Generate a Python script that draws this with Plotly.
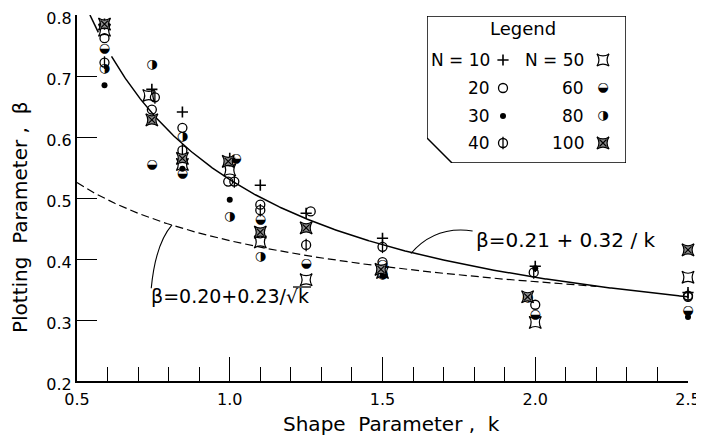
import numpy as np
import plotly.graph_objects as go

# ---------------- data ----------------
k_n10 = [0.59, 0.745, 0.845, 1.0, 1.1, 1.25, 1.5, 2.0, 2.5]
b_n10 = [0.785, 0.678, 0.641, 0.565, 0.521, 0.475, 0.434, 0.388, 0.345]

k_n20 = [0.59, 0.745, 0.845, 0.995, 1.1, 1.265, 1.5, 2.0, 2.5]
b_n20 = [0.762, 0.645, 0.615, 0.527, 0.489, 0.478, 0.395, 0.325, 0.338]

k_n30 = [0.59, 0.845, 1.0, 1.5, 2.0, 2.5]
b_n30 = [0.685, 0.548, 0.497, 0.372, 0.385, 0.305]

k_n40 = [0.59, 0.755, 0.845, 1.015, 1.1, 1.25, 1.5, 1.995, 2.5]
b_n40 = [0.722, 0.665, 0.578, 0.527, 0.48, 0.423, 0.42, 0.378, 0.34]

k_n50 = [0.59, 0.735, 0.845, 1.0, 1.1, 1.25, 1.5, 2.0, 2.5]
b_n50 = [0.775, 0.668, 0.555, 0.546, 0.428, 0.366, 0.378, 0.296, 0.37]

k_n60 = [0.59, 0.745, 0.845, 1.02, 1.1, 1.25, 1.5, 2.0, 2.5]
b_n60 = [0.745, 0.554, 0.54, 0.565, 0.464, 0.393, 0.39, 0.308, 0.315]

k_n80 = [0.59, 0.745, 0.845, 1.0, 1.1, 1.5, 1.975, 2.505]
b_n80 = [0.712, 0.718, 0.6, 0.469, 0.403, 0.374, 0.337, 0.338]

k_n100 = [0.59, 0.745, 0.845, 0.995, 1.1, 1.25, 1.495, 1.975, 2.5]
b_n100 = [0.785, 0.628, 0.565, 0.56, 0.444, 0.451, 0.383, 0.338, 0.415]

sample_sizes = [10, 20, 30, 40, 50, 60, 80, 100]
x_ticks = [0.5, 1.0, 1.5, 2.0, 2.5]
x_ticktext = ["0.5", "1.0", "1.5", "2.0", "2.5"]
y_ticks = [0.2, 0.3, 0.4, 0.5, 0.6, 0.7, 0.8]

# fitted relations shown on the chart
def solid_fit(k):
    return 0.21 + 0.32 / k

def dashed_fit(k):
    return 0.20 + 0.23 / np.sqrt(k)

# ---------------- styles ----------------
FONT = "DejaVu Sans"
BLK = "black"
series_k = [k_n10, k_n20, k_n30, k_n40, k_n50, k_n60, k_n80, k_n100]
series_b = [b_n10, b_n20, b_n30, b_n40, b_n50, b_n60, b_n80, b_n100]

def marker_styles(n):
    """list of (kind, style) layers drawn on top of each other for a sample size"""
    if n == 10:
        return [("m", dict(symbol="cross-thin-open", size=8, color=BLK, line=dict(width=1.6, color=BLK)))]
    if n == 20:
        return [("m", dict(symbol="circle-open", size=9, color=BLK, line=dict(width=1.3, color=BLK)))]
    if n == 30:
        return [("m", dict(symbol="circle", size=6, color=BLK, line=dict(width=0)))]
    if n == 40:
        return [("m", dict(symbol="circle-open", size=9, color=BLK, line=dict(width=1.3, color=BLK))),
                ("m", dict(symbol="line-ns-open", size=9, color=BLK, line=dict(width=1.3, color=BLK)))]
    if n == 50:
        return [("m", dict(symbol="star-square-open", size=11, color=BLK, line=dict(width=1.2, color=BLK)))]
    if n == 60:
        return [("t", "\u25D2")]   # circle with lower half black
    if n == 80:
        return [("t", "\u25D1")]   # circle with right half black
    return [("m", dict(symbol="star-square", size=11, color="#8a8a8a", line=dict(width=1.2, color=BLK))),
            ("m", dict(symbol="x-thin-open", size=7, color=BLK, line=dict(width=1.2, color=BLK)))]

def add_layers(fig, n, xs, ys, **kw):
    for kind, st in marker_styles(n):
        if kind == "m":
            fig.add_trace(go.Scatter(x=xs, y=ys, mode="markers", marker=st, cliponaxis=False,
                                     showlegend=False, hoverinfo="skip", **kw))
        else:
            fig.add_trace(go.Scatter(x=xs, y=ys, mode="text", text=[st] * len(xs),
                                     textposition="middle center",
                                     textfont=dict(family=FONT, size=13, color=BLK),
                                     cliponaxis=False, showlegend=False, hoverinfo="skip", **kw))

fig = go.Figure()

# curves
k_s = np.linspace(0.32 / 0.59, 2.5, 500)
b_s = solid_fit(k_s)
b_s = np.where((k_s > 0.572) & (k_s < 0.612), np.nan, b_s)
fig.add_trace(go.Scatter(x=k_s, y=b_s, mode="lines", line=dict(color=BLK, width=1.5),
                         connectgaps=False, showlegend=False, hoverinfo="skip"))
k_d = np.linspace(0.5, 2.2, 400)
fig.add_trace(go.Scatter(x=k_d, y=dashed_fit(k_d), mode="lines",
                         line=dict(color=BLK, width=1.2, dash="8px,4px"),
                         showlegend=False, hoverinfo="skip"))

# data points
for n, ks, bs in zip(sample_sizes, series_k, series_b):
    add_layers(fig, n, ks, bs)

# ---------------- page geometry (page has an 8px body offset) ----------------
OFF = 8
W, H = 704 - OFF, 435 - OFF
ml, mr, mt, mb = 77 - OFF, 16, 15 - OFF, 54
pw, ph = W - ml - mr, H - mt - mb

def px_x(p):
    """page pixel x -> paper fraction"""
    return (p - OFF - ml) / pw

def px_y(p):
    """page pixel y -> paper fraction"""
    return (H - mb - (p - OFF)) / ph

# ---------------- custom legend (inset axes in page pixel units) ----------------
L, R, T, B = 427, 626, 16, 163
legend_rows_y = [60, 88, 116, 143]
col_sym_x = [503, 603]
col_txt_x = [492, 586]
legend_order = [[10, 20, 30, 40], [50, 60, 80, 100]]
legend_text = [["N = 10", "20", "30", "40"], ["N = 50", "60", "80", "100"]]

annotations = []
for c in range(2):
    for r in range(4):
        n = legend_order[c][r]
        add_layers(fig, n, [col_sym_x[c]], [legend_rows_y[r]], xaxis="x2", yaxis="y2")
        annotations.append(dict(x=col_txt_x[c], y=legend_rows_y[r], xref="x2", yref="y2",
                                text=legend_text[c][r], showarrow=False, xanchor="right",
                                yanchor="middle", font=dict(family=FONT, size=17, color=BLK)))
annotations.append(dict(x=523, y=28, xref="x2", yref="y2", text="Legend", showarrow=False,
                        xanchor="center", yanchor="middle",
                        font=dict(family=FONT, size=18, color=BLK)))

# axis titles & equation labels
annotations.append(dict(x=px_x(391), y=px_y(424), xref="paper", yref="paper",
                        text="Shape  Parameter ,  k", showarrow=False,
                        xanchor="center", yanchor="middle",
                        font=dict(family=FONT, size=20, color=BLK)))
annotations.append(dict(x=px_x(20), y=px_y(218), xref="paper", yref="paper",
                        text="Plotting  Parameter ,  β", showarrow=False, textangle=-90,
                        xanchor="center", yanchor="middle",
                        font=dict(family=FONT, size=20, color=BLK)))
annotations.append(dict(x=1.80, y=0.431, xref="x", yref="y", text="β=0.21 + 0.32 / k",
                        showarrow=False, xanchor="left", yanchor="middle",
                        font=dict(family=FONT, size=20, color=BLK)))
annotations.append(dict(x=0.735, y=0.339, xref="x", yref="y",
                        text="β=0.20+0.23/√k",
                        showarrow=False, xanchor="left", yanchor="middle",
                        font=dict(family=FONT, size=19, color=BLK)))

shapes = [
    dict(type="path", xref="x2", yref="y2",
         path=f"M {L},{T} L {R},{T} L {R},{B} L 452,{B} L {L},138 Z",
         line=dict(color=BLK, width=1.5), fillcolor="white", layer="below"),
    dict(type="path", xref="x", yref="y",
         path="M 1.593,0.409 Q 1.672,0.455 1.795,0.446",
         line=dict(color=BLK, width=1.1)),
    dict(type="path", xref="x", yref="y",
         path="M 0.811,0.456 Q 0.757,0.425 0.743,0.352",
         line=dict(color=BLK, width=1.1)),
    # radical bar over k
    dict(type="line", xref="paper", yref="paper",
         x0=px_x(293), x1=px_x(311), y0=px_y(287), y1=px_y(287),
         line=dict(color=BLK, width=1.3)),
]

fig.update_layout(
    width=W, height=H,
    margin=dict(l=ml, r=mr, t=mt, b=mb, pad=0, autoexpand=False),
    paper_bgcolor="white", plot_bgcolor="white",
    font=dict(family=FONT, size=16, color=BLK),
    showlegend=False,
    xaxis=dict(range=[0.5, 2.5], tickvals=x_ticks, ticktext=x_ticktext, automargin=False,
               ticklabeloverflow="allow",
               ticks="inside", ticklen=24, tickwidth=1.3, tickcolor=BLK, ticklabelstandoff=3,
               minor=dict(dtick=0.1, ticks="inside", ticklen=14, tickwidth=1.2, tickcolor=BLK,
                          showgrid=False),
               showline=True, linewidth=2, linecolor=BLK, showgrid=False, zeroline=False,
               tickfont=dict(family=FONT, size=16, color=BLK)),
    yaxis=dict(range=[0.2, 0.8], tickvals=y_ticks, tickformat=".1f", automargin=False,
               ticklabeloverflow="allow", ticklabelshift=3,
               ticks="inside", ticklen=20, tickwidth=1.3, tickcolor=BLK,
               showline=True, linewidth=2, linecolor=BLK, showgrid=False, zeroline=False,
               tickfont=dict(family=FONT, size=16, color=BLK)),
    xaxis2=dict(domain=[px_x(L), px_x(R)], range=[L, R], visible=False, anchor="y2",
                fixedrange=True, automargin=False),
    yaxis2=dict(domain=[px_y(B), px_y(T)], range=[B, T], visible=False, anchor="x2",
                fixedrange=True, automargin=False),
    annotations=annotations,
    shapes=shapes,
)

fig.write_html("out.html")
